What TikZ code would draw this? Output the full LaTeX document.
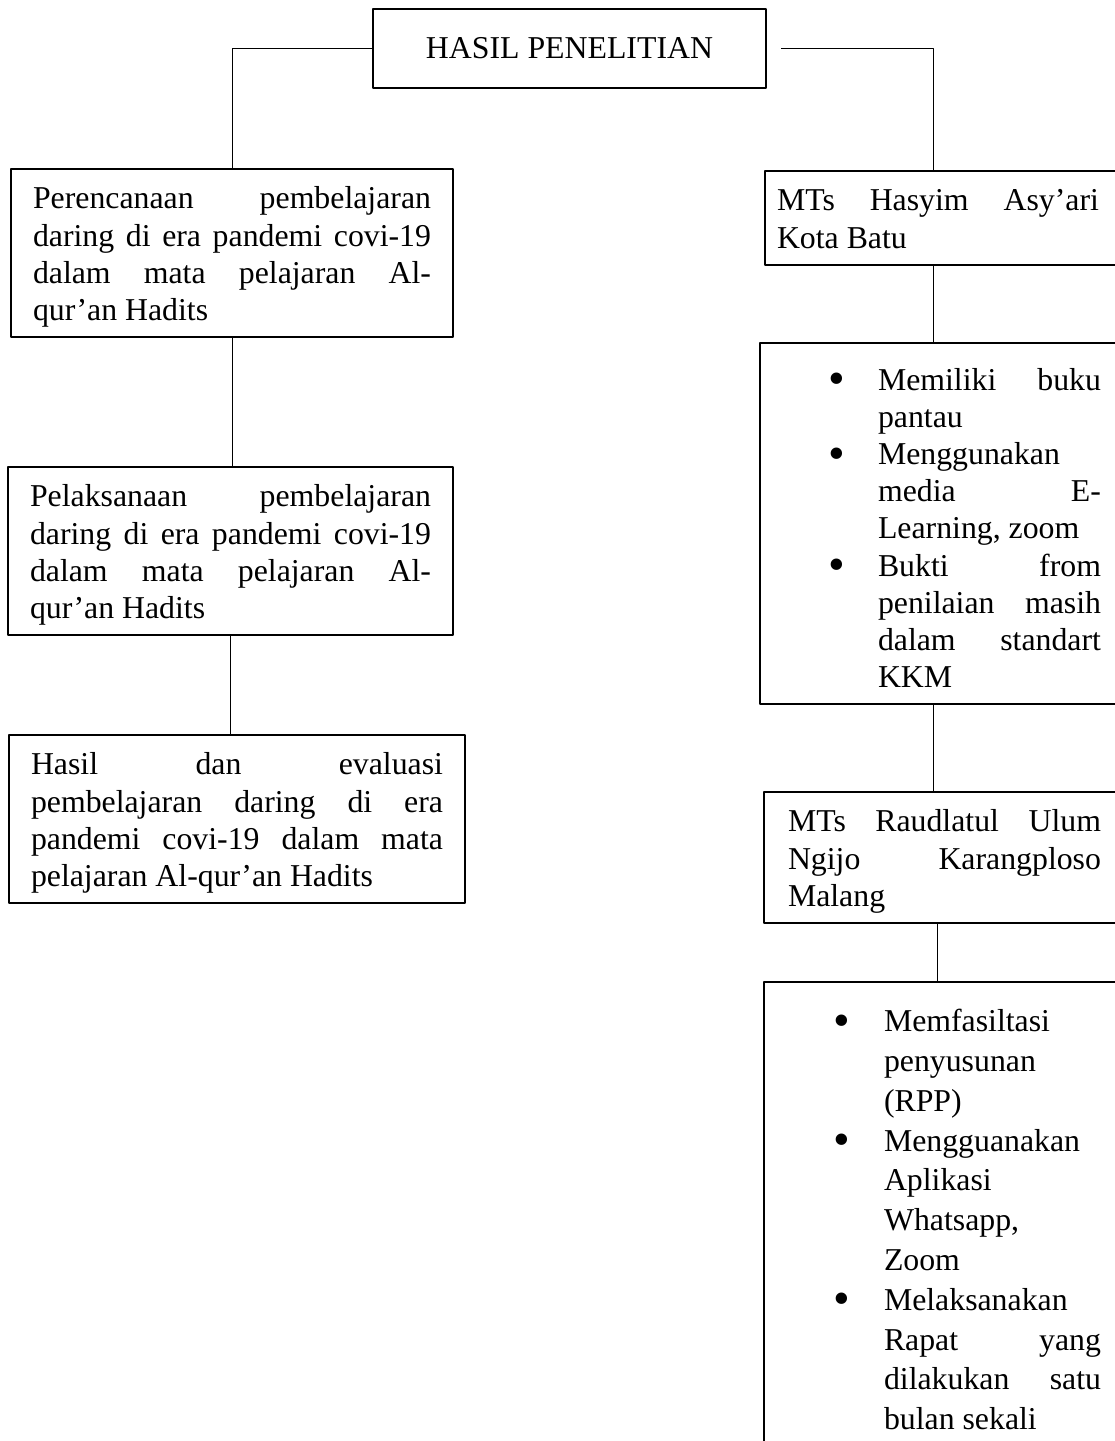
\documentclass[tikz,border=0pt]{standalone}
\usepackage{fontspec}
\setmainfont{Liberation Serif}
\newcommand{\atas}{\rule{0pt}{30bp}}
\newcommand{\bawah}{\rule[-6.5bp]{0pt}{6.5bp}}
\newcommand{\poin}[1][40bp]{\par\noindent\hangindent=#1\hangafter=1\makebox[#1][l]{\hspace{-10bp}\raisebox{-4.5bp}{\scalebox{1.5}{\textbullet}}}}
\hyphenpenalty=10000
\exhyphenpenalty=10000
\tolerance=10000
\hbadness=10000
\begin{document}
\begin{tikzpicture}[line join=bevel,
  kotak/.style={draw=black,line width=2bp,anchor=north west,align=justify,inner ysep=10bp,inner xsep=22bp},
  garis/.style={black,line width=1bp},
  font=\fontsize{31.8bp}{37.2bp}\selectfont]
\useasboundingbox (0bp,0bp) rectangle (1115bp,1441bp);
\clip (0bp,0bp) rectangle (1115bp,1441bp);
%%
\node (node_hasil) at (372bp,1433bp) [draw=black,line width=2bp,anchor=north west,minimum width=393bp,minimum height=79bp,inner sep=0pt] {HASIL PENELITIAN};
  \node (node_perencanaan) at (10bp,1273bp) [kotak,text width=398bp] {\atas Perencanaan pembelajaran\linebreak daring di era pandemi covi-19\linebreak dalam mata pelajaran Al-\linebreak qur’an Hadits\bawah\par};
  \node (node_pelaksanaan) at (7bp,975bp) [kotak,text width=401bp] {\atas Pelaksanaan pembelajaran\linebreak daring di era pandemi covi-19\linebreak dalam mata pelajaran Al-\linebreak qur’an Hadits\bawah\par};
  \node (node_evaluasi) at (8bp,707bp) [kotak,text width=412bp] {\atas Hasil dan evaluasi\linebreak pembelajaran daring di era\linebreak pandemi covi-19 dalam mata\linebreak pelajaran Al-qur’an Hadits\bawah\par};
  \node (node_hasyim) at (764bp,1271bp) [kotak,inner xsep=12bp,text width=340bp] {\rightskip=18bp\atas MTs Hasyim Asy’ari\linebreak Kota Batu\bawah\par};
  \node (node_hasyim_isi) at (759bp,1099bp) [kotak,inner xsep=78bp,text width=263bp] {\poin\atas Memiliki buku\linebreak pantau\poin Menggunakan\linebreak media E-\linebreak Learning, zoom\poin Bukti from\linebreak penilaian masih\linebreak dalam standart\linebreak KKM\bawah\par};
  \node (node_raudlatul) at (763bp,650bp) [kotak,inner xsep=24bp,text width=313bp] {\atas MTs Raudlatul Ulum\linebreak Ngijo Karangploso\linebreak Malang\bawah\par};
  \node (node_raudlatul_isi) at (763bp,460bp) [kotak,inner xsep=79bp,text width=258bp,font=\fontsize{31.8bp}{39.8bp}\selectfont] {\poin[41bp]\atas Memfasiltasi\linebreak penyusunan\linebreak (RPP)\poin[41bp]Mengguanakan\linebreak Aplikasi\linebreak Whatsapp,\linebreak Zoom\poin[41bp]Melaksanakan\linebreak Rapat yang\linebreak dilakukan satu\linebreak bulan sekali\rule[-30bp]{0pt}{30bp}\par};
  \coordinate (kanan_1) at (933bp,0bp);
  \coordinate (kanan_2) at (937bp,0bp);
  \draw [garis] (node_hasil.west) -| (node_perencanaan.north);
  \draw [garis] ([xshift=14bp]node_hasil.east) -| (kanan_1 |- node_hasyim.north);
  \draw [garis] (node_perencanaan.south) -- (node_perencanaan.south |- node_pelaksanaan.north);
  \draw [garis] (node_pelaksanaan.south) -- (node_pelaksanaan.south |- node_evaluasi.north);
  \draw [garis] (kanan_1 |- node_hasyim.south) -- (kanan_1 |- node_hasyim_isi.north);
  \draw [garis] (kanan_1 |- node_hasyim_isi.south) -- (kanan_1 |- node_raudlatul.north);
  \draw [garis] (kanan_2 |- node_raudlatul.south) -- (kanan_2 |- node_raudlatul_isi.north);
%
\end{tikzpicture}
\end{document}
